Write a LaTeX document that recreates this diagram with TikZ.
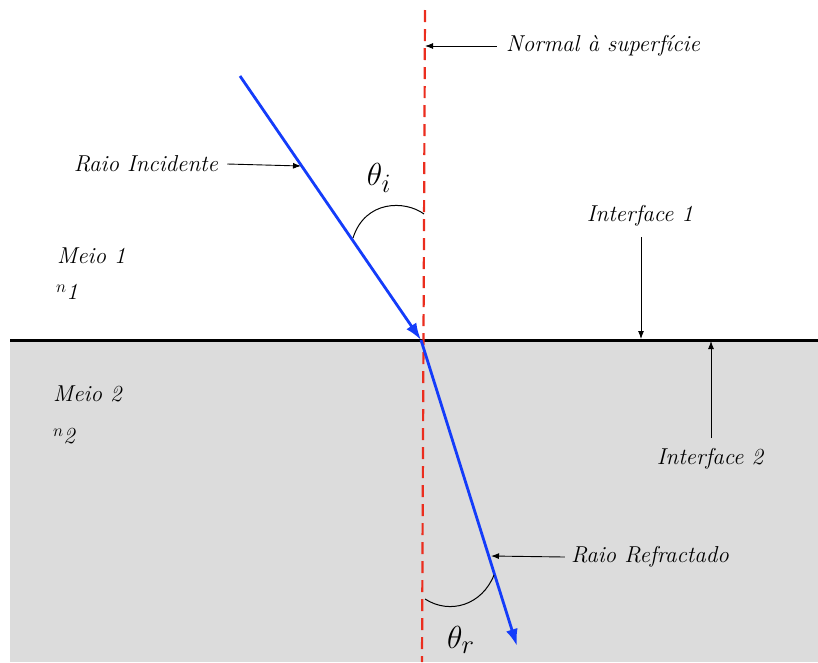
\documentclass[tikz,border=0pt]{standalone}
\usetikzlibrary{arrows.meta}
\definecolor{raycol}{RGB}{20,60,250}
\definecolor{normcol}{RGB}{235,45,30}
\definecolor{medgray}{RGB}{220,220,220}
\tikzset{
  lbl/.style={font=\fontsize{23}{27}\selectfont\itshape, inner sep=0pt},
  ang/.style={font=\fontsize{24.88}{30}\selectfont, scale=1.28, inner sep=0pt},
  ray/.style={draw=raycol, line width=2.8pt, -{Latex[length=17pt,width=12pt]}},
  pointer/.style={draw=black, line width=0.9pt, -{Latex[length=8pt,width=6pt]}},
  normalline/.style={draw=normcol, line width=2.2pt, dash pattern=on 12pt off 7pt},
  anglearc/.style={draw=black, line width=1pt}
}
\begin{document}
\begin{tikzpicture}[x=1pt,y=-1pt]
\useasboundingbox (0,0) rectangle (818,662);
% medium 2
\fill[medgray] (10,340) rectangle (818,662);
% interface
\coordinate (L) at (10,340);
\coordinate (R) at (818,340);
\draw[line width=3pt] (L) -- (R);
% normal
\coordinate (Ntop) at (425,10);
\coordinate (Nbot) at (422,662);
\draw[normalline] (Ntop) -- (Nbot);
% rays
\coordinate (S) at (240,76);
\coordinate (O) at (421,340);
\coordinate (E) at (517,646);
\draw[ray] (S) -- (O);
\draw[ray] (O) -- (E);
% angle arcs
\coordinate (ai1) at (353,238);
\coordinate (ai2) at (424,214);
\draw[anglearc] (ai1) .. controls (365,200) and (405,200) .. (ai2);
\node[ang] (thi) at (379,178) {$\theta_i$};
\coordinate (ar1) at (425,599);
\coordinate (ar2) at (494,575);
\draw[anglearc] (ar1) .. controls (450,615) and (482,605) .. (ar2);
\node[ang] (thr) at (461,640) {$\theta_r$};
% labels
\node[lbl] (rinc) at (146,164) {Raio Incidente};
\coordinate (pinc) at (301,166);
\draw[pointer] (rinc.east) ++(9pt,0) -- (pinc);
\node[lbl] (norm) at (603,46) {Normal à superfície};
\coordinate (pnorm) at (425,46);
\draw[pointer] (norm.west) ++(-9pt,0) -- (pnorm);
\node[lbl] (if1) at (640,216) {Interface 1};
\coordinate (pif1) at (641,339);
\draw[pointer] (641,237) -- (pif1);
\node[lbl] (if2) at (710,459) {Interface 2};
\coordinate (pif2) at (711,341);
\draw[pointer] (711,438) -- (pif2);
\node[lbl] (rref) at (650,557) {Raio Refractado};
\coordinate (pref) at (491,556);
\draw[pointer] (rref.west) ++(-6pt,0) -- (pref);
% media
\node[lbl, anchor=west] (m1) at (57,256) {Meio 1};
\node[lbl, anchor=west] (n1) at (56,292) {{\fontsize{18}{18}\selectfont$n$}\raisebox{-7pt}{\itshape 1}};
\node[lbl, anchor=west] (m2) at (53,394) {Meio 2};
\node[lbl, anchor=west] (n2) at (53,436) {{\fontsize{18}{18}\selectfont$n$}\raisebox{-7pt}{\itshape 2}};
\end{tikzpicture}
\end{document}
